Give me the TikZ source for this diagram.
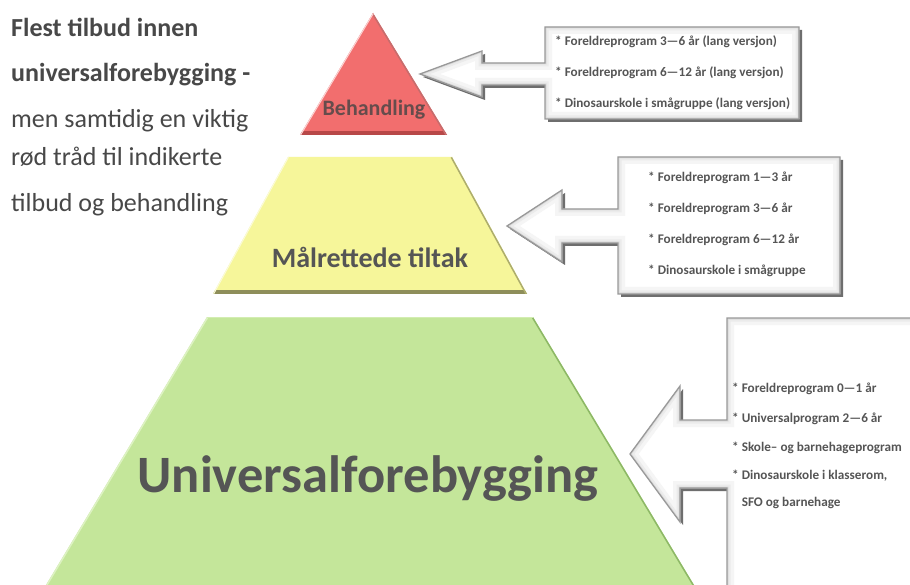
\documentclass[tikz,border=0pt]{standalone}
\usepackage{fontspec}
\setmainfont{Carlito}
\definecolor{txt}{HTML}{484848}
\definecolor{lbl}{HTML}{555555}
\definecolor{redf}{HTML}{F26E6E}
\definecolor{redd}{HTML}{B84848}
\definecolor{yelf}{HTML}{F6F69A}
\definecolor{yeld}{HTML}{8E8E5A}
\definecolor{grnf}{HTML}{C4E69A}
\definecolor{grnd}{HTML}{8DB866}
\definecolor{grnl}{HTML}{DDF2C2}
\definecolor{bord}{HTML}{999999}
\definecolor{shad}{HTML}{6E6E6E}
\newcommand\calloutpath[9]{(#1,#2) -- (#3,#2) -- (#3,#4) -- (#1,#4) -- (#1,{#5+#6}) -- (#7,{#5+#6}) -- (#7,{#5+#9}) -- (#8,#5) -- (#7,{#5-#9}) -- (#7,{#5-#6}) -- (#1,{#5-#6}) -- cycle}
\newcommand\callout[9]{%
  \fill[shad, shift={(3,3)}] \calloutpath{#1}{#2}{#3}{#4}{#5}{#6}{#7}{#8}{#9};
  \fill[white] \calloutpath{#1}{#2}{#3}{#4}{#5}{#6}{#7}{#8}{#9};
  \begin{scope}
    \clip \calloutpath{#1}{#2}{#3}{#4}{#5}{#6}{#7}{#8}{#9};
    \draw[gray!8, line width=14] \calloutpath{#1}{#2}{#3}{#4}{#5}{#6}{#7}{#8}{#9};
    \draw[gray!16, line width=7] \calloutpath{#1}{#2}{#3}{#4}{#5}{#6}{#7}{#8}{#9};
    \draw[gray!28, line width=3] \calloutpath{#1}{#2}{#3}{#4}{#5}{#6}{#7}{#8}{#9};
  \end{scope}
  \draw[bord, line width=1.3, line join=miter] \calloutpath{#1}{#2}{#3}{#4}{#5}{#6}{#7}{#8}{#9};
}
\tikzset{
  lefttxt/.style={anchor=base west, inner sep=0, text=txt, font=\fontsize{26}{26}\selectfont},
  leftbold/.style={lefttxt, font=\fontsize{26}{26}\selectfont\bfseries},
  level/.style={anchor=base, inner sep=0, text=lbl, font=\bfseries},
  item/.style={anchor=base west, inner sep=0, text=lbl, font=\fontsize{13.2}{13.2}\selectfont\bfseries},
}
\begin{document}
\begin{tikzpicture}[x=1pt, y=-1pt]
\useasboundingbox (0,0) rectangle (910,585);
\clip (0,0) rectangle (910,585);
\fill[white] (0,0) rectangle (910,585);

% left text
\node[leftbold] (l1) at (11,37) {Flest tilbud innen};
\node[leftbold] (l2) at (11,82) {universalforebygging -};
\node[lefttxt] (l3) at (11,128) {men samtidig en viktig};
\node[lefttxt] (l4) at (11,166) {rød tråd til indikerte};
\node[lefttxt] (l5) at (11,212) {tilbud og behandling};

% red triangle
\fill[redf] (373,13) -- (447,135) -- (300,135) -- cycle;
\begin{scope}
  \clip (373,13) -- (447,135) -- (300,135) -- cycle;
  \draw[redd, line width=8] (290,135) -- (460,135);
  \draw[redd!80, line width=3] (373,13) -- (447,135);
  \draw[white!70!redf, line width=2] (373,13) -- (300,135);
\end{scope}
\node[level, font=\fontsize{22}{22}\selectfont\bfseries, text=lbl!90!red] (beh) at (374,116) {Behandling};

% yellow trapezoid
\fill[yelf] (288,157) -- (452,157) -- (527,294) -- (213,294) -- cycle;
\begin{scope}
  \clip (288,157) -- (452,157) -- (527,294) -- (213,294) -- cycle;
  \draw[yeld, line width=7] (200,294) -- (540,294);
  \draw[yeld!70!yelf, line width=3] (452,157) -- (527,294);
  \draw[white!60!yelf, line width=2] (288,157) -- (213,294);
\end{scope}
\node[level, font=\fontsize{28}{28}\selectfont\bfseries] (mal) at (370,268) {Målrettede tiltak};

% green trapezoid
\fill[grnf] (207,317) -- (533,317) -- (694,585) -- (46,585) -- cycle;
\begin{scope}
  \clip (207,317) -- (533,317) -- (694,585) -- (46,585) -- cycle;
  \draw[grnd, line width=3] (533,317) -- (694,585);
  \draw[grnl, line width=3] (207,317) -- (46,585);
  \draw[grnl!60!grnf, line width=2] (207,317) -- (533,317);
\end{scope}
\node[level, font=\fontsize{52.5}{52.5}\selectfont\bfseries] (uni) at (368,492) {Universalforebygging};

% callouts
\callout{545}{27}{799}{119}{74}{11}{482}{420}{23}
\callout{618}{157}{840}{294}{226}{17}{562}{507}{36}
\callout{727}{318}{930}{600}{454}{34}{680}{630}{68}

\node[item] (a1) at (555,46) {* Foreldreprogram 3—6 år (lang versjon)};
\node[item] (a2) at (555,77) {* Foreldreprogram 6—12 år (lang versjon)};
\node[item] (a3) at (555,108) {* Dinosaurskole i smågruppe (lang versjon)};

\node[item] (b1) at (648,182) {* Foreldreprogram 1—3 år};
\node[item] (b2) at (648,213) {* Foreldreprogram 3—6 år};
\node[item] (b3) at (648,244) {* Foreldreprogram 6—12 år};
\node[item] (b4) at (648,275) {* Dinosaurskole i smågruppe};

\node[item] (c1) at (732,392) {* Foreldreprogram 0—1 år};
\node[item] (c2) at (732,422) {* Universalprogram 2—6 år};
\node[item] (c3) at (732,451) {* Skole– og barnehageprogram};
\node[item] (c4) at (732,479) {* Dinosaurskole i klasserom,};
\node[item] (c5) at (732,506) {\phantom{* }SFO og barnehage};
\end{tikzpicture}
\end{document}
